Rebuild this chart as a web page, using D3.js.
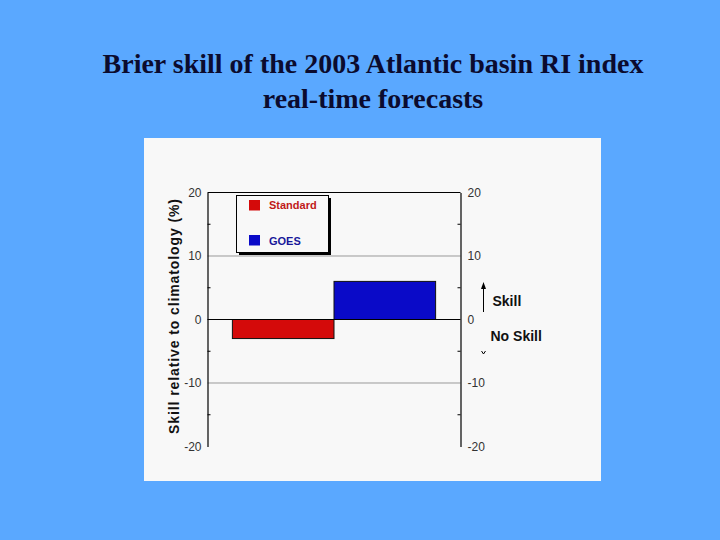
<!DOCTYPE html>
<html>
<head>
<meta charset="utf-8">
<script src="https://cdn.jsdelivr.net/npm/d3@7"></script>
<style>
  body { margin: 0; background: #5aa8ff; }
  svg { display: block; }
</style>
</head>
<body>
<svg id="chart" width="720" height="540"></svg>
<script>
// data
const categories = ["Standard", "GOES"]
const skillValues = [-3.0, 6.0]
const barColors = ["#d40a0a", "#0a0ac8"]
const tickValues = [-20, -10, 0, 10, 20]
const minorTicks = [-15, -5, 5, 15]
const titleLines = ["Brier skill of the 2003 Atlantic basin RI index", "real-time forecasts"]

const svg = d3.select("#chart")

// title
svg.selectAll(".title")
  .data(titleLines)
  .enter().append("text")
    .attr("x", 373)
    .attr("y", (d, i) => 73 + i * 35)
    .attr("text-anchor", "middle")
    .style("font-family", "'Liberation Serif', 'Times New Roman', serif")
    .style("font-weight", "bold")
    .style("font-size", "28px")
    .style("fill", "#0b0b2e")
    .text(d => d)

// white panel
svg.append("rect")
  .attr("x", 144).attr("y", 138)
  .attr("width", 457).attr("height", 343)
  .attr("fill", "#f8f8f8")

const plot = { left: 207.5, right: 460.5, top: 192.5, bottom: 446.5 }

const y = d3.scaleLinear()
  .domain([-20, 20])
  .range([plot.bottom, plot.top])

const x = d3.scaleBand()
  .domain(categories)
  .range([plot.left, plot.right])
  .paddingInner(0)
  .paddingOuter(0.245)

const g = svg.append("g")

// grid lines at +-10
g.selectAll(".grid")
  .data([-10, 10])
  .enter().append("line")
    .attr("x1", plot.left).attr("x2", plot.right)
    .attr("y1", d => y(d)).attr("y2", d => y(d))
    .attr("stroke", "#999").attr("stroke-width", 1)

// top border
g.append("line")
  .attr("x1", plot.left).attr("x2", plot.right)
  .attr("y1", y(20)).attr("y2", y(20))
  .attr("stroke", "#000")

// bars
g.selectAll(".bar")
  .data(skillValues)
  .enter().append("rect")
    .attr("x", (d, i) => x(categories[i]))
    .attr("width", x.bandwidth())
    .attr("y", d => y(Math.max(0, d)))
    .attr("height", d => Math.abs(y(d) - y(0)))
    .attr("fill", (d, i) => barColors[i])
    .attr("stroke", "#111").attr("stroke-width", 1)

// zero line
g.append("line")
  .attr("x1", plot.left).attr("x2", plot.right)
  .attr("y1", y(0)).attr("y2", y(0))
  .attr("stroke", "#000")

// axes
const tickFont = "'Liberation Sans', Arial, sans-serif"
const fmt = d => String(d)
const leftAxis = g.append("g")
  .attr("transform", "translate(" + plot.left + ",0)")
  .call(d3.axisLeft(y).tickValues(tickValues).tickFormat(fmt).tickSize(0).tickPadding(6))
const rightAxis = g.append("g")
  .attr("transform", "translate(" + plot.right + ",0)")
  .call(d3.axisRight(y).tickValues(tickValues).tickFormat(fmt).tickSize(0).tickPadding(7))

;[leftAxis, rightAxis].forEach(ax => {
  ax.select(".domain").attr("stroke", "#000").attr("stroke-width", 1.2)
  ax.selectAll("text")
    .style("font-family", tickFont)
    .style("font-size", "12px")
    .style("fill", "#333")
})

// minor inward ticks
g.selectAll(".minorL")
  .data(minorTicks)
  .enter().append("line")
    .attr("x1", plot.left).attr("x2", plot.left + 3)
    .attr("y1", d => y(d)).attr("y2", d => y(d))
    .attr("stroke", "#000")
g.selectAll(".minorR")
  .data(minorTicks)
  .enter().append("line")
    .attr("x1", plot.right - 3).attr("x2", plot.right)
    .attr("y1", d => y(d)).attr("y2", d => y(d))
    .attr("stroke", "#000")

// y axis title
svg.append("text")
  .attr("transform", "translate(178.5," + 316 + ") rotate(-90)")
  .attr("text-anchor", "middle")
  .style("font-family", tickFont)
  .style("font-weight", "bold")
  .style("font-size", "14px")
  .style("letter-spacing", "0.9px")
  .style("fill", "#111")
  .text("Skill relative to climatology  (%)")

// legend with drop shadow
const legend = svg.append("g")
legend.append("rect")
  .attr("x", 239).attr("y", 198).attr("width", 92).attr("height", 57)
  .attr("fill", "#000")
legend.append("rect")
  .attr("x", 236.5).attr("y", 195.5).attr("width", 92).attr("height", 57)
  .attr("fill", "#f8f8f8").attr("stroke", "#000")

legend.selectAll(".sw")
  .data(categories)
  .enter().append("rect")
    .attr("x", 249).attr("y", (d, i) => 200 + i * 35)
    .attr("width", 11).attr("height", 10.5)
    .attr("fill", (d, i) => barColors[i])
legend.selectAll(".lt")
  .data(categories)
  .enter().append("text")
    .attr("x", 269).attr("y", (d, i) => 209 + i * 36)
    .style("font-family", tickFont)
    .style("font-weight", "bold")
    .style("font-size", "11px")
    .style("fill", (d, i) => i === 0 ? "#c01818" : "#18189a")
    .text(d => d)

// skill annotation
svg.append("line")
  .attr("x1", 483.5).attr("x2", 483.5)
  .attr("y1", 312).attr("y2", 285)
  .attr("stroke", "#000")
svg.append("path")
  .attr("d", "M481,289 L483.5,282 L486,289 Z")
  .attr("fill", "#000")
svg.append("path")
  .attr("d", "M481.5,351 L483.5,354 L485.5,351")
  .attr("fill", "none").attr("stroke", "#000")

svg.append("text")
  .attr("x", 492.5).attr("y", 306)
  .style("font-family", tickFont).style("font-weight", "bold")
  .style("font-size", "14px").style("fill", "#111")
  .text("Skill")
svg.append("text")
  .attr("x", 490.5).attr("y", 341)
  .style("font-family", tickFont).style("font-weight", "bold")
  .style("font-size", "14px").style("fill", "#111")
  .text("No Skill")
</script>
</body>
</html>
